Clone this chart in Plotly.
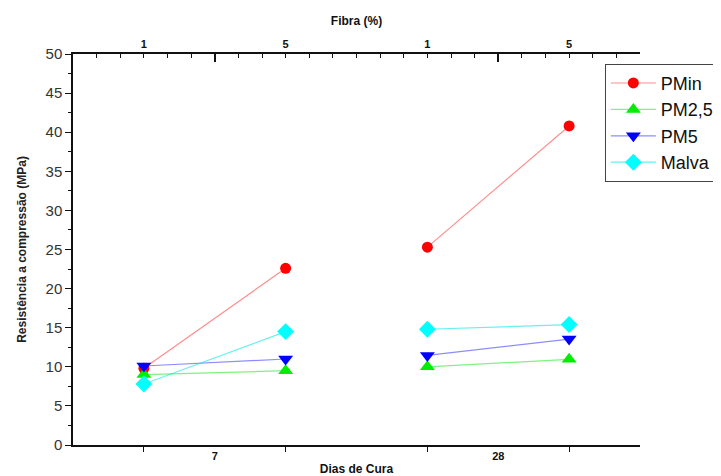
import plotly.graph_objects as go

# ---- data ----
dias = ["7", "28"]            # Dias de Cura (bottom axis groups)
fibra = ["1", "5"]            # Fibra (%) within each group (top axis)
pmin = [9.8, 22.6, 25.3, 40.8]
pm25 = [9.0, 9.5, 10.0, 10.95]
pm5 = [10.1, 11.0, 11.45, 13.55]
malva = [7.8, 14.5, 14.8, 15.4]

series = [
    ("PMin", pmin, "#ff0000", "rgba(255,0,0,0.45)", "circle", 11),
    ("PM2,5", pm25, "#00ee00", "rgba(0,230,0,0.5)", "triangle-up", 13),
    ("PM5", pm5, "#0000ff", "rgba(0,0,255,0.45)", "triangle-down", 13),
    ("Malva", malva, "#00ffff", "rgba(0,230,230,0.6)", "diamond", 13),
]

# positions: group i, fibre j
pos = []
for i in range(len(dias)):
    for j in range(len(fibra)):
        pos.append(1 + 4 * i + 2 * j)
group_pos = [2 + 4 * i for i in range(len(dias))]

fig = go.Figure()
for name, vals, mc, lc, sym, sz in series:
    xs, ys = [], []
    for i in range(len(dias)):
        if i > 0:
            xs.append(None)
            ys.append(None)
        for j in range(len(fibra)):
            k = i * len(fibra) + j
            xs.append(pos[k])
            ys.append(vals[k])
    fig.add_trace(go.Scatter(
        x=xs, y=ys, name=name, mode="lines+markers",
        line=dict(color=lc, width=1.2),
        marker=dict(color=mc, symbol=sym, size=sz, line=dict(width=0)),
        connectgaps=False, cliponaxis=False,
    ))

# invisible helper traces so the top axes are drawn
fig.add_trace(go.Scatter(x=[0, 8], y=[None, None], xaxis="x2", showlegend=False, hoverinfo="skip"))
fig.add_trace(go.Scatter(x=[0, 8], y=[None, None], xaxis="x3", showlegend=False, hoverinfo="skip"))

FONT = "Liberation Sans, Arial, sans-serif"

# page body has an 8px margin, so the figure is drawn 8px smaller
fig.update_layout(
    width=713, height=468,
    margin=dict(l=65, r=81, t=46, b=31, autoexpand=False),
    paper_bgcolor="white", plot_bgcolor="white",
    font=dict(family=FONT, color="#111"),
    showlegend=True,
    legend=dict(
        x=0.938, y=0.975, xanchor="left", yanchor="top",
        bordercolor="#444", borderwidth=1, bgcolor="white",
        font=dict(size=18, family=FONT, color="#111"),
        itemwidth=45, tracegroupgap=0,
    ),
    xaxis=dict(
        range=[0, 8], showgrid=False, zeroline=False, automargin=False,
        showline=True, linecolor="#111", linewidth=1.5,
        tickmode="array", tickvals=group_pos, ticktext=dias,
        ticks="", tickfont=dict(size=11, weight="bold", family=FONT),
        minor=dict(tickmode="array", tickvals=pos, ticks="outside",
                   ticklen=5, tickcolor="#111", tickwidth=1.2),
        title=dict(text="Dias de Cura", font=dict(size=12, weight="bold", family=FONT), standoff=5),
    ),
    xaxis2=dict(
        overlaying="x", side="top", anchor="y", range=[0, 8], automargin=False,
        showgrid=False, zeroline=False,
        showline=True, linecolor="#111", linewidth=1.5,
        tickmode="array", tickvals=pos, ticktext=fibra * len(dias),
        ticks="inside", ticklen=4, tickcolor="#111", tickwidth=1.2,
        tickfont=dict(size=11, weight="bold", family=FONT),
        minor=dict(tickmode="linear", tick0=0, dtick=1 / 3, ticks="inside",
                   ticklen=4, tickcolor="#111", tickwidth=1.2),
        title=dict(text="Fibra (%)", font=dict(size=12, weight="bold", family=FONT), standoff=10),
    ),
    xaxis3=dict(
        overlaying="x", side="top", anchor="y", range=[0, 8], automargin=False,
        showgrid=False, zeroline=False, showline=False,
        tickmode="array", tickvals=group_pos, showticklabels=False,
        ticks="inside", ticklen=8, tickcolor="#111", tickwidth=1.5,
    ),
    yaxis=dict(
        range=[0, 50], showgrid=False, zeroline=False, automargin=False,
        showline=True, linecolor="#111", linewidth=1.5,
        tickmode="linear", tick0=0, dtick=5,
        ticks="outside", ticklen=6, tickcolor="#111", tickwidth=1.2,
        tickfont=dict(size=15, family=FONT, color="#333"),
        minor=dict(tickmode="linear", tick0=0, dtick=2.5, ticks="outside",
                   ticklen=3, tickcolor="#111", tickwidth=1.2),
        title=dict(text="Resistência a compressão (MPa)",
                   font=dict(size=12, weight="bold", family=FONT, color="#222"), standoff=16),
    ),
)

fig.write_html("out.html")
